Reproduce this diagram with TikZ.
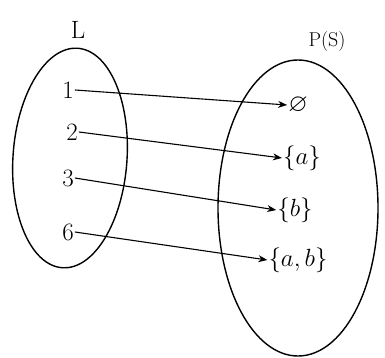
\documentclass[tikz,border=0pt]{standalone}
\usepackage{fontspec}
\usepackage{amssymb}
\usetikzlibrary{arrows.meta,shapes.geometric}
\begin{document}
\begin{tikzpicture}[x=1pt,y=-1pt,
  lab/.style={font=\fontsize{25}{30}\selectfont, inner sep=1pt},
  setl/.style={draw, line width=1.4pt},
  mapto/.style={-{Stealth[length=9pt,width=7pt]}, line width=1.1pt}]
\useasboundingbox (0,0) rectangle (385,358);
\node[setl, ellipse, minimum width=114, minimum height=220, rotate=-4] (L) at (70,158) {};
\node[setl, ellipse, minimum width=160, minimum height=296] (PS) at (298,208) {};
\node[lab] (Lt) at (78,30) {L};
\node[lab, font=\fontsize{20}{24}\selectfont] (PSt) at (327,42) {P(S)};
\node[lab] (n1) at (68,90) {1};
\node[lab] (n2) at (72,132) {2};
\node[lab] (n3) at (68,178) {3};
\node[lab] (n6) at (68,232) {6};
\node[lab] (e0) at (298,105) {$\varnothing$};
\node[lab] (ea) at (302,158) {$\{a\}$};
\node[lab] (eb) at (295,210) {$\{b\}$};
\node[lab] (eab) at (298,260) {$\{a,b\}$};
\draw[mapto] (n1.east) -- (e0.west);
\draw[mapto] (n2.east) -- (ea.west);
\draw[mapto] (n3.east) -- (eb.west);
\draw[mapto] (n6.east) -- (eab.west);
\end{tikzpicture}
\end{document}
